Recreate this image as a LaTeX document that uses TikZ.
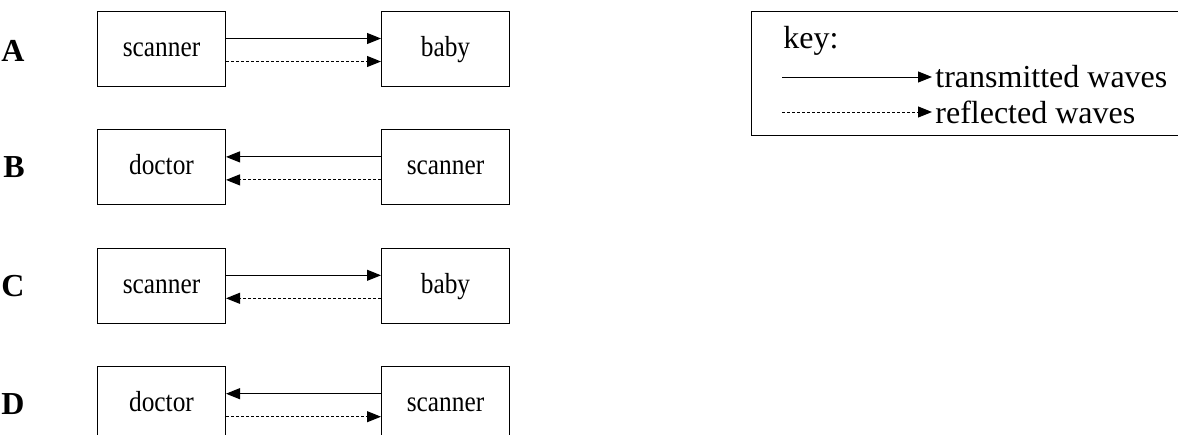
\documentclass[tikz,border=0pt]{standalone}
\usepackage{fontspec}
\setmainfont{Liberation Serif}
\newfontfamily\boxfont[FakeStretch=0.875]{Liberation Serif}
\usetikzlibrary{arrows.meta,positioning}
\tikzstyle{unit} = [rectangle, minimum width=64pt, minimum height=37.5pt, text height=0.85em, text depth=0.1em, draw=black, line width=0.5pt, font=\boxfont\fontsize{14.5}{17}\selectfont]
\tikzstyle{letter} = [inner sep=0pt, font=\fontsize{16}{19}\selectfont\bfseries]
\tikzstyle{keybox} = [rectangle, minimum width=250pt, minimum height=62pt, draw=black, line width=0.5pt]
\tikzstyle{wave} = [line width=0.5pt, -{Triangle[length=7pt,width=5.5pt]}]
\tikzstyle{echo} = [wave, dash pattern=on 1.5pt off 1pt]
\begin{document}
\begin{tikzpicture}[x=0.5pt, y=-0.5pt, font=\fontsize{16}{19}\selectfont]
		
		\useasboundingbox (0,0) rectangle (1178,434);
		\clip (0,0) rectangle (1178,434);
		
		% the four options, one row each
		\node (scanA) [unit, anchor=north west] at (97,11) {scanner};
		\node (babyA) [unit, right = 77.5pt of scanA] {baby};
		
		\node (doctorB) [unit, below = 21.2pt of scanA] {doctor};
		\node (scanB) [unit, right = 77.5pt of doctorB] {scanner};
		
		\node (scanC) [unit, below = 21.2pt of doctorB] {scanner};
		\node (babyC) [unit, right = 77.5pt of scanC] {baby};
		
		\node (doctorD) [unit, below = 21.2pt of scanC] {doctor};
		\node (scanD) [unit, right = 77.5pt of doctorD] {scanner};
		
		\node (labA) [letter, left = 36pt of scanA, yshift = -1pt] {A};
		\node (labB) [letter, left = 36pt of doctorB] {B};
		\node (labC) [letter, left = 36pt of scanC] {C};
		\node (labD) [letter, left = 36pt of doctorD] {D};
		
		\draw [wave] ([yshift = 5.25pt] scanA.east) -- ([yshift = 5.25pt] babyA.west);
		\draw [echo] ([yshift = -6.25pt] scanA.east) -- ([yshift = -6.25pt] babyA.west);
		
		\draw [wave] ([yshift = 5.25pt] scanB.west) -- ([yshift = 5.25pt] doctorB.east);
		\draw [echo] ([yshift = -6.25pt] scanB.west) -- ([yshift = -6.25pt] doctorB.east);
		
		\draw [wave] ([yshift = 5.25pt] scanC.east) -- ([yshift = 5.25pt] babyC.west);
		\draw [echo] ([yshift = -6.25pt] babyC.west) -- ([yshift = -6.25pt] scanC.east);
		
		\draw [wave] ([yshift = 5.25pt] scanD.west) -- ([yshift = 5.25pt] doctorD.east);
		\draw [echo] ([yshift = -6.25pt] doctorD.east) -- ([yshift = -6.25pt] scanD.west);
		
		% key
		\node (key) [keybox, anchor=north west] at (751,11) {};
		\node (keyhead) [anchor=base west, inner sep=0pt] at ([xshift = 16pt, yshift = -18.5pt] key.north west) {key:};
		
		\coordinate (tfrom) at ([xshift = 15.5pt, yshift = -33pt] key.north west);
		\node (ttext) [anchor=west, inner sep=1.5pt] at ([xshift = 75pt] tfrom) {transmitted waves};
		\draw [wave] (tfrom) -- (ttext.west);
		
		\coordinate (rfrom) at ([xshift = 15.5pt, yshift = -50.5pt] key.north west);
		\node (rtext) [anchor=west, inner sep=1.5pt] at ([xshift = 75pt] rfrom) {reflected waves};
		\draw [echo] (rfrom) -- (rtext.west);
		
\end{tikzpicture}
\end{document}
